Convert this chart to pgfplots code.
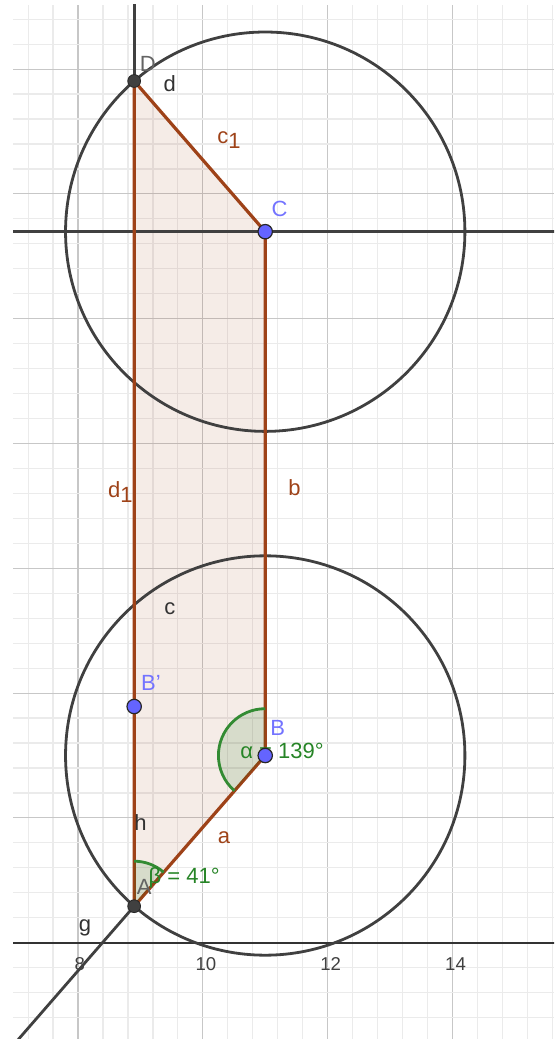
\documentclass[border=0pt]{standalone}
\usepackage{pgfplots}
\pgfplotsset{compat=1.18}
\usepackage{fontspec}
\setmainfont{Liberation Sans}
\definecolor{seg}{RGB}{158,66,24}
\definecolor{ggline}{RGB}{64,64,64}
\definecolor{ptblue}{RGB}{100,100,255}
\definecolor{lblblue}{RGB}{115,115,255}
\definecolor{anggreen}{RGB}{0,110,0}
\definecolor{lblgray}{RGB}{100,100,100}
\definecolor{lbldark}{RGB}{50,50,50}
\newcommand{\lbl}{\fontsize{11}{13}\selectfont}
\newcommand{\tck}{\fontsize{9.3}{11}\selectfont}
\begin{document}
\begin{tikzpicture}
\begin{axis}[
  scale only axis,
  width=270.5pt, height=517pt,
  xmin=6.958, xmax=15.628, ymin=-1.543, ymax=15.027,
  axis line style={draw=none},
  xtick={8,10,12,14}, ytick={0,2,4,6,8,10,12,14},
  minor xtick={7.2,7.6,8.4,8.8,9.2,9.6,10.4,10.8,11.2,11.6,12.4,12.8,13.2,13.6,14.4,14.8,15.2,15.6},
  minor ytick={-1.2,-0.8,-0.4,0.4,0.8,1.2,1.6,2.4,2.8,3.2,3.6,4.4,4.8,5.2,5.6,6.4,6.8,7.2,7.6,8.4,8.8,9.2,9.6,10.4,10.8,11.2,11.6,12.4,12.8,13.2,13.6,14.4,14.8},
  xticklabels={}, yticklabels={},
  major tick length=0pt, minor tick length=0pt,
  grid=both,
  major grid style={black!22, line width=0.55pt},
  minor grid style={black!8, line width=0.6pt},
]
% polygon fill
\addplot[draw=none, fill=seg, fill opacity=0.1] coordinates {(8.9,0.585) (11,3) (11,11.394) (8.9,13.809)} -- cycle;
% x axis
\addplot[black!80, line width=1pt] coordinates {(6.5,0) (16,0)};
% circles
\draw[ggline, line width=1.4pt] (axis cs:11,3) circle [radius=3.2];
\draw[ggline, line width=1.4pt] (axis cs:11,11.394) circle [radius=3.2];
% ray h, ray g, horizontal line
\addplot[ggline, line width=1.4pt] coordinates {(8.9,0.585) (8.9,16)};
\addplot[ggline, line width=1.4pt] coordinates {(8.9,0.585) (6.22,-2.497)};
\addplot[ggline, line width=1.4pt] coordinates {(6.5,11.394) (16,11.394)};
% segments
\addplot[seg, line width=1.6pt] coordinates {(8.9,0.585) (11,3) (11,11.394) (8.9,13.809)} -- cycle;
% angles
\fill[anggreen, fill opacity=0.12] (axis cs:11,3) -- ++(90:23.4pt) arc[start angle=90, end angle=229, radius=23.4pt] -- cycle;
\draw[anggreen!80!white, line width=1.4pt] (axis cs:11,3) ++(90:23.4pt) arc[start angle=90, end angle=229, radius=23.4pt];
\fill[anggreen, fill opacity=0.12] (axis cs:8.9,0.585) -- ++(49:22.5pt) arc[start angle=49, end angle=90, radius=22.5pt] -- cycle;
\draw[anggreen!80!white, line width=1.4pt] (axis cs:8.9,0.585) ++(49:22.5pt) arc[start angle=49, end angle=90, radius=22.5pt];
% labels
\node[inner sep=0.5pt, anggreen!85!white, font=\lbl] at (axis cs:9.7,1.04) {β = 41°};
\node[inner sep=0.5pt, anggreen!85!white, font=\lbl] at (axis cs:11.27,3.07) {α = 139°};
\node[inner sep=0.5pt, lblgray, font=\lbl] at (axis cs:9.06,0.9) {A};
\node[inner sep=0.5pt, lblgray, font=\lbl] at (axis cs:9.12,14.09) {D};
\node[inner sep=0.5pt, lblblue, font=\lbl] at (axis cs:11.2,3.44) {B};
\node[inner sep=0.5pt, lblblue, font=\lbl] at (axis cs:11.23,11.76) {C};
\node[inner sep=0.5pt, lblblue, font=\lbl] at (axis cs:9.17,4.17) {B'};
\node[inner sep=0.5pt, lbldark, font=\lbl] at (axis cs:9.47,13.76) {d};
\node[inner sep=0.5pt, lbldark, font=\lbl] at (axis cs:9.47,5.36) {c};
\node[inner sep=0.5pt, lbldark, font=\lbl] at (axis cs:9.0,1.92) {h};
\node[inner sep=0.5pt, lbldark, font=\lbl] at (axis cs:8.11,0.24) {g};
\node[inner sep=0.5pt, seg, font=\lbl] at (axis cs:10.42,12.86) {c\raisebox{-0.45ex}{1}};
\node[inner sep=0.5pt, seg, font=\lbl] at (axis cs:8.68,7.22) {d\raisebox{-0.45ex}{1}};
\node[inner sep=0.5pt, seg, font=\lbl] at (axis cs:11.47,7.3) {b};
\node[inner sep=0.5pt, seg, font=\lbl] at (axis cs:10.34,1.68) {a};
% tick labels
\node[black!75, font=\tck] at (axis cs:8.03,-0.34) {8};
\node[black!75, font=\tck] at (axis cs:10.05,-0.34) {10};
\node[black!75, font=\tck] at (axis cs:12.05,-0.34) {12};
\node[black!75, font=\tck] at (axis cs:14.05,-0.34) {14};
% points
\addplot[only marks, mark=*, mark size=3.2pt, mark options={fill=ggline, draw=black!85, line width=0.4pt}] coordinates {(8.9,0.585) (8.9,13.809)};
\addplot[only marks, mark=*, mark size=3.6pt, mark options={fill=ptblue, draw=black!85, line width=0.6pt}] coordinates {(11,3) (11,11.394) (8.9,3.785)};
\end{axis}
\pgfresetboundingbox
\useasboundingbox ([xshift=-6.5pt]current axis.south west) rectangle ([yshift=2.5pt]current axis.north east);
\end{tikzpicture}
\end{document}
